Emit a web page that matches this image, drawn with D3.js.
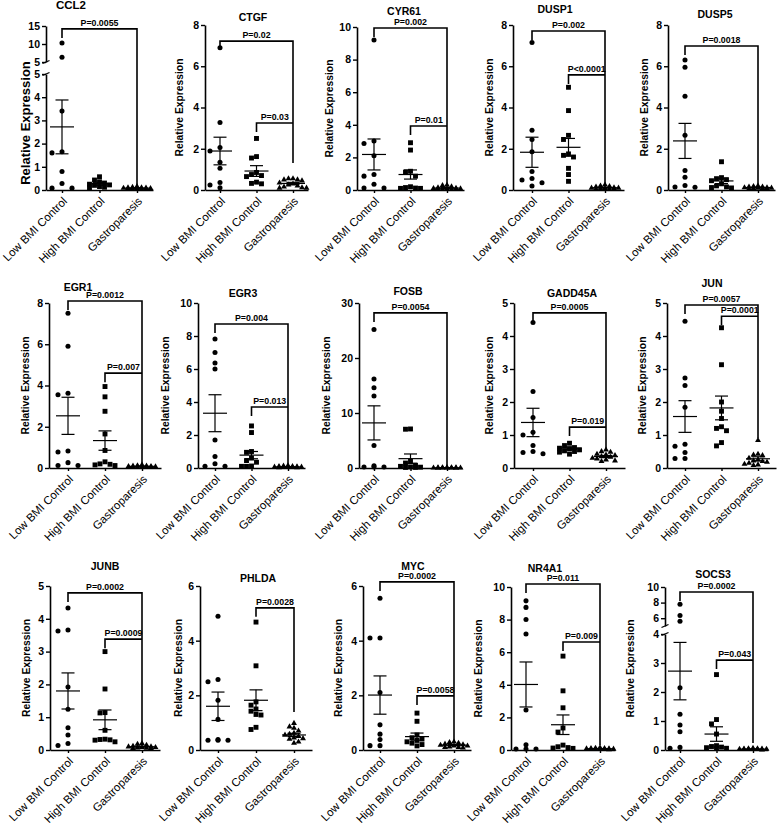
<!DOCTYPE html>
<html><head><meta charset="utf-8">
<script src="https://cdn.jsdelivr.net/npm/d3@7"></script>
<style>
body{margin:0;background:#fff}
svg{display:block}
text{font-family:"Liberation Sans",Arial,Helvetica,sans-serif;fill:#000}
</style>
</head><body>
<svg id="c" width="778" height="824"></svg>
<script>
// ---------------- DATA ----------------
const groups = ["Low BMI Control","High BMI Control","Gastroparesis"];
const genes = ["CCL2","CTGF","CYR61","DUSP1","DUSP5","EGR1","EGR3","FOSB","GADD45A","JUN","JUNB","PHLDA","MYC","NR4A1","SOCS3"];
const yMax = [15,8,10,8,8,8,10,30,5,5,5,6,6,10,10];
const yTicks = [
  [0,1,2,3,4,5,10,15],[0,2,4,6,8],[0,2,4,6,8,10],[0,2,4,6,8],[0,2,4,6,8],
  [0,2,4,6,8],[0,2,4,6,8,10],[0,10,20,30],[0,1,2,3,4,5],[0,1,2,3,4,5],
  [0,1,2,3,4,5],[0,2,4,6],[0,2,4,6],[0,2,4,6,8,10],[0,1,2,3,4,6,8,10]
];
// broken y axes: values <= split on lower segment, >= upperFrom on upper segment
const axisBreaks = {0:{split:5, upperFrom:5}, 14:{split:4, upperFrom:5}};

const lowBMI = [
  [10.3,6.3,3.4,1.65,1.6,0.8,0.28,0.08,0.08],
  [6.9,3.27,2.06,1.89,1.34,1.05,0.36,0.24,0.11],
  [9.2,3.0,2.85,2.1,0.95,0.85,0.35,0.12,0.12],
  [7.15,2.9,2.45,1.85,0.9,0.56,0.48,0.35,0.19],
  [6.3,5.95,4.55,2.65,0.95,0.62,0.22,0.13,0.15],
  [7.5,5.9,3.62,3.55,0.82,0.78,0.26,0.12,0.12],
  [7.82,7.0,6.36,6.0,1.7,0.7,0.26,0.1,0.1],
  [25.2,16.2,14.6,13.1,4.1,0.42,0.2,0.2,0.2],
  [4.41,2.32,1.53,1.08,1.0,0.68,0.5,0.47,0.43],
  [4.45,2.73,2.5,1.84,0.72,0.66,0.47,0.29,0.29],
  [4.33,3.66,3.63,1.92,1.24,0.68,0.46,0.2,0.14],
  [4.89,2.58,2.5,1.82,1.12,0.38,0.36,0.36,0.36],
  [5.55,4.1,4.1,2.1,0.92,0.58,0.38,0.16,0.16],
  [9.15,8.75,8.0,7.12,2.45,0.32,0.06,0.06,0.06],
  [7.8,6.35,5.6,2.15,1.23,0.86,0.63,0.06,0.09]
];
const highBMI = [
  [0.57,0.43,0.35,0.3,0.25,0.22,0.2,0.15,0.12,0.1],
  [2.5,1.62,1.55,0.85,0.75,0.7,0.65,0.38,0.32,0.3],
  [2.9,2.45,1.15,1.1,0.85,0.2,0.15,0.12,0.1,0.1],
  [4.98,3.85,2.65,2.45,1.75,1.68,1.6,1.05,0.75,0.42],
  [1.37,0.6,0.55,0.5,0.45,0.3,0.2,0.15,0.12,0.1],
  [3.95,3.45,2.75,1.65,0.85,0.3,0.2,0.18,0.15,0.12],
  [2.55,2.15,1.0,0.95,0.6,0.45,0.35,0.12,0.1,0.1],
  [7.1,7.05,1.2,0.9,0.5,0.3,0.2,0.15,0.1,0.1],
  [0.75,0.68,0.62,0.6,0.58,0.55,0.52,0.5,0.48,0.42],
  [4.25,3.13,2.0,1.72,1.5,1.25,1.2,1.13,0.77,0.67],
  [3.0,1.86,1.14,1.13,0.6,0.33,0.32,0.31,0.3,0.25],
  [4.68,3.08,1.76,1.64,1.5,1.42,1.3,1.28,0.83,0.75],
  [1.35,1.05,0.55,0.45,0.4,0.35,0.3,0.25,0.2,0.15],
  [5.76,3.63,2.59,1.35,1.1,0.3,0.2,0.15,0.12,0.1],
  [2.6,1.05,0.9,0.55,0.15,0.12,0.1,0.08,0.06,0.05]
];
const gastroparesis = [
  [0.15,0.12,0.1,0.1,0.09,0.08,0.07,0.06,0.06,0.05,0.05,0.04],
  [0.55,0.55,0.5,0.5,0.45,0.35,0.3,0.25,0.2,0.15,0.12,0.1,0.1],
  [0.3,0.28,0.2,0.15,0.12,0.1,0.08,0.08,0.06,0.05,0.05,0.04],
  [0.25,0.2,0.18,0.15,0.12,0.1,0.1,0.08,0.06,0.05,0.05,0.04],
  [0.2,0.18,0.15,0.15,0.12,0.12,0.1,0.1,0.08,0.08,0.06,0.05],
  [0.15,0.12,0.1,0.1,0.08,0.08,0.06,0.06,0.05,0.05,0.04,0.04],
  [0.15,0.12,0.1,0.1,0.08,0.06,0.06,0.05,0.05,0.04,0.03,0.03],
  [0.1,0.08,0.06,0.05,0.05,0.04,0.04,0.03,0.03,0.02,0.02,0.02],
  [0.55,0.5,0.48,0.42,0.4,0.38,0.35,0.33,0.3,0.28,0.25,0.22,0.2],
  [0.84,0.42,0.4,0.38,0.3,0.25,0.22,0.2,0.18,0.15,0.12,0.1,0.08],
  [0.2,0.18,0.15,0.12,0.1,0.1,0.08,0.08,0.07,0.06,0.05,0.05],
  [0.98,0.85,0.8,0.7,0.62,0.58,0.55,0.5,0.45,0.42,0.4,0.3,0.25],
  [0.3,0.28,0.25,0.22,0.2,0.18,0.15,0.15,0.12,0.1,0.1,0.08],
  [0.15,0.12,0.1,0.1,0.08,0.08,0.06,0.05,0.05,0.04,0.04,0.03],
  [0.06,0.05,0.05,0.04,0.04,0.03,0.03,0.03,0.02,0.02,0.02,0.01]
];
const groupMean = [
  [2.72,0.27,0.08],[1.89,0.92,0.32],[2.18,0.95,0.12],[1.83,2.07,0.11],[2.38,0.44,0.12],
  [2.53,1.33,0.08],[3.32,0.78,0.07],[8.2,1.7,0.04],[1.38,0.6,0.35],[1.56,1.82,0.28],
  [1.8,0.92,0.1],[1.6,1.82,0.55],[2.01,0.49,0.18],[4.02,1.55,0.08],[2.72,0.55,0.03]
];
const groupSEM = [
  [1.16,0.06,0.01],[0.67,0.26,0.05],[0.95,0.28,0.03],[0.73,0.43,0.02],[0.85,0.13,0.015],
  [0.9,0.47,0.01],[1.12,0.22,0.01],[3.1,0.85,0.01],[0.43,0.04,0.03],[0.48,0.36,0.06],
  [0.55,0.3,0.015],[0.52,0.38,0.06],[0.7,0.13,0.02],[1.38,0.6,0.01],[0.99,0.25,0.005]
];
// significance brackets: from group -> Gastroparesis, at level (data units)
const pBrackets = [
  [{from:0,label:"P=0.0055",level:14.2}],
  [{from:0,label:"P=0.02",level:7.22},{from:1,label:"P=0.03",level:3.25}],
  [{from:0,label:"P=0.002",level:9.94},{from:1,label:"P=0.01",level:3.93}],
  [{from:0,label:"P=0.002",level:7.71},{from:1,label:"P<0.0001",level:5.58}],
  [{from:0,label:"P=0.0018",level:6.98}],
  [{from:0,label:"P=0.0012",level:8.1},{from:1,label:"P=0.007",level:4.6}],
  [{from:0,label:"P=0.004",level:8.73},{from:1,label:"P=0.013",level:3.7}],
  [{from:0,label:"P=0.0054",level:28.2}],
  [{from:0,label:"P=0.0005",level:4.7},{from:1,label:"P=0.019",level:1.24}],
  [{from:0,label:"P=0.0057",level:4.94},{from:1,label:"P=0.0001",level:4.6}],
  [{from:0,label:"P=0.0002",level:4.79},{from:1,label:"P=0.0009",level:3.38}],
  [{from:1,label:"P=0.0028",level:5.2}],
  [{from:0,label:"P=0.0002",level:6.15},{from:1,label:"P=0.0058",level:1.98}],
  [{from:0,label:"P=0.011",level:10.18},{from:1,label:"P=0.009",level:6.63}],
  [{from:0,label:"P=0.0002",level:9.35},{from:1,label:"P=0.043",level:3.1}]
];
const bracketEnd = [0.1,1.31,0.25,0.3,0.2,0.15,0.15,0.3,0.55,0.9,0.15,1.39,0.26,0.3,0.24];

// ---------------- LAYOUT ----------------
const layout = [
  {ax:46, g1:62, g3:137, base:190, top:26, tx:71, ty:9, ylx:25, yly:123, ylfs:13, lowerPx:116, upperPx:36},
  {ax:205,g1:220,g3:293, base:190, top:25, tx:253,ty:21, ylx:179},
  {ax:357,g1:374,g3:447, base:190, top:27, tx:404,ty:15, ylx:329},
  {ax:513,g1:532,g3:605, base:190, top:25, tx:555,ty:13, ylx:489},
  {ax:668,g1:685,g3:758, base:190, top:25, tx:715,ty:18, ylx:644},
  {ax:49, g1:68, g3:142, base:468, top:303,tx:78, ty:291,ylx:25},
  {ax:198,g1:215,g3:288, base:468, top:303,tx:243,ty:297,ylx:165},
  {ax:359,g1:374,g3:447, base:468, top:303,tx:408,ty:295,ylx:326},
  {ax:514,g1:533,g3:606, base:468, top:303,tx:572,ty:297,ylx:489},
  {ax:667,g1:685,g3:758, base:468, top:303,tx:712,ty:287,ylx:642},
  {ax:50, g1:68, g3:142, base:750, top:586,tx:105,ty:570,ylx:26},
  {ax:200,g1:218,g3:294, base:750, top:586,tx:258,ty:582,ylx:178},
  {ax:363,g1:380,g3:454, base:750, top:586,tx:413,ty:570,ylx:338},
  {ax:511,g1:526,g3:600, base:750, top:587,tx:545,ty:572,ylx:478},
  {ax:665,g1:680,g3:753, base:750, top:587,tx:713,ty:578,ylx:630, lowerPx:116, upperPx:39}
];
const FONT = '"Liberation Sans",Arial,Helvetica,sans-serif';
const svg = d3.select("#c");

function swarm(vals, yf, cx, step, maxOff, minD){
  const idx = vals.map((v,i)=>i).sort((a,b)=>vals[b]-vals[a]);
  const cands=[0];
  for(let k=1;k*step<=maxOff+0.01;k++){cands.push(-k*step,k*step);}
  const placed=[], out=new Array(vals.length);
  idx.forEach(i=>{
    const yy=yf(vals[i]);
    let best=0,bestD=-1;
    for(const c of cands){
      let md=Infinity;
      for(const p of placed){const d=Math.hypot(p.x-(cx+c),p.y-yy); if(d<md)md=d;}
      if(md>=minD){best=c;bestD=md;break;}
      if(md>bestD){bestD=md;best=c;}
    }
    const pt={x:cx+best,y:yy,v:vals[i]};
    placed.push(pt); out[i]=pt;
  });
  return out;
}

function styleAxis(g){
  g.selectAll("path.domain").attr("stroke","#000").attr("stroke-width",1.6);
  g.selectAll(".tick line").attr("stroke","#000").attr("stroke-width",1.4);
  g.selectAll(".tick text").attr("font-family",FONT).attr("font-weight","bold").attr("font-size",10.5).attr("fill","#000");
  g.attr("font-family",null).attr("font-size",null);
}
const fmt = d3.format("d");

genes.forEach((gene,i)=>{
  const L = layout[i];
  const gp = svg.append("g");
  const br = axisBreaks[i];
  let yf, lo, hi, ys;
  if(br){
    lo = d3.scaleLinear().domain([0,br.split]).range([L.base, L.base-L.lowerPx]);
    hi = d3.scaleLinear().domain([br.upperFrom,yMax[i]]).range([L.top+L.upperPx, L.top]);
    yf = v => v<=br.split ? lo(v) : hi(Math.max(v,br.upperFrom));
  } else {
    ys = d3.scaleLinear().domain([0,yMax[i]]).range([L.base,L.top]);
    yf = v => ys(v);
  }
  const step=(L.g3-L.g1)/2, pad=(L.g1-L.ax)/step;
  const x = d3.scalePoint().domain(groups).range([L.ax, L.ax+(2+2*pad)*step]).padding(pad);

  // y axis
  if(br){
    const ga = gp.append("g").attr("transform",`translate(${L.ax},0)`)
      .call(d3.axisLeft(lo).tickValues(yTicks[i].filter(t=>t<=br.split)).tickFormat(fmt).tickSize(4).tickPadding(2).tickSizeOuter(0));
    styleAxis(ga);
    const gb = gp.append("g").attr("transform",`translate(${L.ax},0)`)
      .call(d3.axisLeft(hi).tickValues(yTicks[i].filter(t=>t>=br.upperFrom)).tickFormat(fmt).tickSize(4).tickPadding(2).tickSizeOuter(0));
    styleAxis(gb);
    // break marks
    [lo(br.split), hi(br.upperFrom)].forEach(yy=>{
      gp.append("line").attr("x1",L.ax-3.5).attr("y1",yy+1.5).attr("x2",L.ax+3.5).attr("y2",yy-1.5)
        .attr("stroke","#000").attr("stroke-width",1.3);
    });
  } else {
    const ga = gp.append("g").attr("transform",`translate(${L.ax},0)`)
      .call(d3.axisLeft(ys).tickValues(yTicks[i]).tickFormat(fmt).tickSize(4).tickPadding(2).tickSizeOuter(0));
    styleAxis(ga);
  }
  // x axis
  const gx = gp.append("g").attr("transform",`translate(0,${L.base})`)
    .call(d3.axisBottom(x).tickSize(3).tickSizeOuter(0).tickFormat(""));
  styleAxis(gx);
  groups.forEach(gr=>{
    gp.append("text").attr("transform",`translate(${x(gr)+3},${L.base+9}) rotate(-45)`)
      .attr("text-anchor","end").attr("dy","0.35em").attr("font-size",11.5).attr("font-family",FONT)
      .text(gr);
  });
  // title
  gp.append("text").attr("x",L.tx).attr("y",L.ty).attr("text-anchor","middle")
    .attr("font-weight","bold").attr("font-size",i===0?11.5:10.5).attr("font-family",FONT).text(gene);
  // y label
  const yly = L.yly!==undefined ? L.yly : (L.base+L.top)/2;
  gp.append("text").attr("transform",`translate(${L.ylx},${yly}) rotate(-90)`)
    .attr("text-anchor","middle").attr("dy","0.35em").attr("font-weight","bold")
    .attr("font-size",L.ylfs||10.3).attr("font-family",FONT).text("Relative Expression");

  // points
  const series=[lowBMI[i],highBMI[i],gastroparesis[i]];
  const symT=[d3.symbolCircle,d3.symbolSquare,d3.symbolTriangle];
  const symS=[20,24,15];
  const swp=[[10,10,5],[5,12.5,5],[4.5,13.5,4.5]];
  series.forEach((vals,k)=>{
    const pts=swarm(vals,yf,x(groups[k]),swp[k][0],swp[k][1],swp[k][2]);
    gp.selectAll(null).data(pts).enter().append("path")
      .attr("d",d3.symbol().type(symT[k]).size(symS[k]))
      .attr("transform",d=>`translate(${d.x},${d.y})`).attr("fill","#000");
  });
  // mean +- SEM
  groups.forEach((gr,k)=>{
    const cx=x(gr), m=groupMean[i][k], s=groupSEM[i][k];
    const yU=yf(m+s), yD=yf(Math.max(0,m-s)), yM=yf(m);
    const ln=(x1,y1,x2,y2)=>gp.append("line").attr("x1",x1).attr("y1",y1).attr("x2",x2).attr("y2",y2)
      .attr("stroke","#000").attr("stroke-width",1.2);
    ln(cx-12,yM,cx+12,yM); ln(cx-6.5,yU,cx+6.5,yU); ln(cx-6.5,yD,cx+6.5,yD); ln(cx,yU,cx,yD);
  });
  // brackets
  const xr = x(groups[2]);
  pBrackets[i].forEach((b,j)=>{
    const xl=x(groups[b.from]), yl=yf(b.level);
    let d=`M${xl},${yl+9} V${yl} H${xr}`;
    if(j===0) d+=` V${yf(bracketEnd[i])}`;
    gp.append("path").attr("d",d).attr("fill","none").attr("stroke","#000").attr("stroke-width",1.6);
    gp.append("text").attr("x",(xl+xr)/2).attr("y",yl-3).attr("text-anchor","middle")
      .attr("font-weight","bold").attr("font-size",8.8).attr("font-family",FONT).text(b.label);
  });
});
</script>
</body></html>
